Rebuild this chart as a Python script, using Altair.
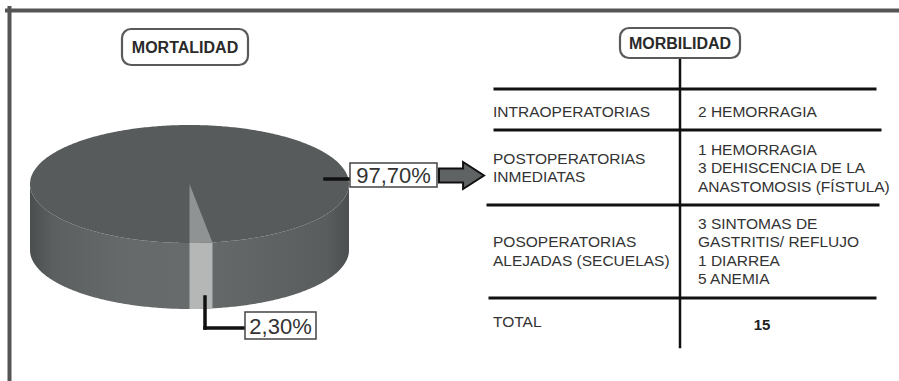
import numpy as np
import pandas as pd
import altair as alt

# ---- values ----
slice_labels = ["97,70%", "2,30%"]
slice_values = [97.7, 2.3]
slice_top_colors = ["#575b5c", "#8f9394"]
slice_side_colors = ["#626667", "#b5b7b7"]

title_labels = ["MORTALIDAD", "MORBILIDAD"]
row_categories = [
    ["INTRAOPERATORIAS"],
    ["POSTOPERATORIAS", "INMEDIATAS"],
    ["POSOPERATORIAS", "ALEJADAS (SECUELAS)"],
    ["TOTAL"],
]
row_details = [
    ["2 HEMORRAGIA"],
    ["1 HEMORRAGIA", "3 DEHISCENCIA DE LA", "ANASTOMOSIS (FÍSTULA)"],
    ["3 SINTOMAS DE", "GASTRITIS/ REFLUJO", "1 DIARREA", "5 ANEMIA"],
    ["15"],
]

# ---- layout (pixel canvas) ----
W, H = 899, 381
CX, CY, RX, RY, DEPTH = 189.5, 184.0, 159.5, 59.0, 66.0
FONT = "Liberation Sans"
TXT = "#333333"

xs_ = alt.Scale(domain=[0, W])
ys_ = alt.Scale(domain=[0, H], reverse=True)


def X(f):
    return alt.X(f, type="quantitative", scale=xs_, axis=None)


def Y(f):
    return alt.Y(f, type="quantitative", scale=ys_, axis=None)


# ---- 3D pie geometry from the slice values ----
# the small slice ends at the front (180 deg, clockwise from 12 o'clock)
small = slice_values[1]
a_end = np.deg2rad(180.0)
a_start = np.deg2rad(180.0 - 360.0 * small / 100.0)

t = np.linspace(np.pi, 0, 240)
ell = pd.DataFrame({"x": CX + RX * np.cos(t)})
ell["top"] = CY - RY * np.sin(t)
ell["bot"] = CY + RY * np.sin(t)
ell["side_bot"] = ell["bot"] + DEPTH

side_grad = alt.Gradient(
    gradient="linear",
    x1=0, x2=1, y1=0, y2=0,
    stops=[
        alt.GradientStop(color="#4a4e4f", offset=0.0),
        alt.GradientStop(color="#5b5f60", offset=0.07),
        alt.GradientStop(color="#666a6b", offset=0.3),
        alt.GradientStop(color="#676b6c", offset=0.5),
        alt.GradientStop(color="#5f6364", offset=0.75),
        alt.GradientStop(color="#595d5e", offset=0.93),
        alt.GradientStop(color="#4b4f50", offset=1.0),
    ],
)

side_big = alt.Chart(ell).mark_area(color=side_grad).encode(
    x=X("x"), y=Y("bot"), y2="side_bot"
)

aa = np.linspace(a_start, a_end, 30)
band = pd.DataFrame({"x": CX + RX * np.sin(aa)})
band["y"] = CY - RY * np.cos(aa)
band["y2"] = band["y"] + DEPTH
side_small = alt.Chart(band).mark_area(color=slice_side_colors[1]).encode(
    x=X("x"), y=Y("y"), y2="y2"
)

top_face = alt.Chart(ell).mark_area(color=slice_top_colors[0]).encode(
    x=X("x"), y=Y("top"), y2="bot"
)

xe = CX + RX * np.sin(a_start)
ye = CY - RY * np.cos(a_start)
wx = np.linspace(CX, xe, 40)
wedge = pd.DataFrame({"x": wx})
wedge["y"] = CY + (wx - CX) / (xe - CX) * (ye - CY)
wedge["y2"] = CY + RY * np.sqrt(np.clip(1 - ((wx - CX) / RX) ** 2, 0, 1))
top_small = alt.Chart(wedge).mark_area(color=slice_top_colors[1]).encode(
    x=X("x"), y=Y("y"), y2="y2"
)

# ---- straight strokes: frame, leaders, table grid ----
rules = pd.DataFrame(
    [
        # frame
        (7, 10.5, 899, 10.5, 4.0, "#555555"),
        (9.5, 8, 9.5, 381, 4.0, "#555555"),
        # leaders
        (325, 179, 350, 179, 3.5, "#111111"),
        (205, 297, 205, 328, 3.5, "#111111"),
        (205, 328, 245, 328, 3.5, "#111111"),
        # table
        (680, 58, 680, 347, 2.5, "#111111"),
        (495, 89, 875, 89, 3.0, "#111111"),
        (495, 130, 880, 130, 3.0, "#111111"),
        (488, 205, 878, 205, 3.0, "#111111"),
        (490, 298, 875, 298, 3.0, "#111111"),
    ],
    columns=["x", "y", "x2", "y2", "w", "c"],
)
rule_layer = alt.Chart(rules).mark_rule(strokeCap="square").encode(
    x=X("x"), y=Y("y"), x2="x2", y2="y2",
    strokeWidth=alt.StrokeWidth("w:Q", scale=None),
    color=alt.Color("c:N", scale=None),
)

# ---- percentage boxes ----
pct = pd.DataFrame({
    "label": slice_labels,
    "x0": [350, 245], "x1": [437, 316],
    "y0": [163, 312], "y1": [187, 339],
})
pct["xc"] = (pct["x0"] + pct["x1"]) / 2
pct["yc"] = (pct["y0"] + pct["y1"]) / 2 + 1
pct_box = alt.Chart(pct).mark_rect(fill="white", stroke="#444444", strokeWidth=1.5).encode(
    x=X("x0"), x2="x1", y=Y("y0"), y2="y1"
)
pct_txt = alt.Chart(pct).mark_text(font=FONT, fontSize=22, color=TXT, baseline="middle").encode(
    x=X("xc"), y=Y("yc"), text="label:N"
)

# ---- titles in rounded boxes ----
tit = pd.DataFrame({
    "label": title_labels,
    "x0": [122, 620], "x1": [248, 740],
    "y0": [29, 28], "y1": [65, 58],
})
tit["xc"] = (tit["x0"] + tit["x1"]) / 2
tit["yc"] = (tit["y0"] + tit["y1"]) / 2 + 1
tit_box = alt.Chart(tit).mark_rect(
    fill="white", stroke="#5a5a5a", strokeWidth=2.2, cornerRadius=9
).encode(x=X("x0"), x2="x1", y=Y("y0"), y2="y1")
tit_txt = alt.Chart(tit).mark_text(
    font=FONT, fontSize=16, fontWeight="bold", color="#2a2a2a", baseline="middle"
).encode(x=X("xc"), y=Y("yc"), text="label:N")

# ---- arrow towards the table ----
arrow_path = "M-1,-0.31 L0.07,-0.31 L0.07,-0.6 L1,0 L0.07,0.6 L0.07,0.31 L-1,0.31 Z"
arrow = alt.Chart(pd.DataFrame({"x": [461.5], "y": [175.5]})).mark_point(
    shape=arrow_path, size=45 * 45, filled=True, fill="#5f6364",
    stroke="#111111", strokeWidth=2, opacity=1,
).encode(x=X("x"), y=Y("y"))

# ---- table text ----
row_centers = [111.5, 168.0, 251.5, 322.0]
LH = 18.5
cells = []
for rc, left, right in zip(row_centers, row_categories, row_details):
    for i, s in enumerate(left):
        cells.append((493, rc + (i - (len(left) - 1) / 2) * LH, s, "left"))
    for i, s in enumerate(right):
        if len(right) == 1 and s.isdigit():
            cells.append((762, rc + 3, s, "center"))
        else:
            cells.append((698, rc + (i - (len(right) - 1) / 2) * LH, s, "left"))
cells = pd.DataFrame(cells, columns=["x", "y", "s", "al"])

left_txt = alt.Chart(cells[cells["al"] == "left"]).mark_text(
    font=FONT, fontSize=15.5, color=TXT, align="left", baseline="middle"
).encode(x=X("x"), y=Y("y"), text="s:N")
center_txt = alt.Chart(cells[cells["al"] == "center"]).mark_text(
    font=FONT, fontSize=15, color="#222222", align="center", baseline="middle", fontWeight="bold"
).encode(x=X("x"), y=Y("y"), text="s:N")

chart = alt.layer(
    side_big, side_small, top_face, top_small,
    rule_layer, pct_box, pct_txt, tit_box, tit_txt, arrow, left_txt, center_txt,
).properties(
    width=W, height=H, padding=0, autosize=alt.AutoSizeParams(type="none"),
    background="white",
).configure_view(stroke=None)

chart.save("out.html", embed_options={"renderer": "svg", "actions": False})
